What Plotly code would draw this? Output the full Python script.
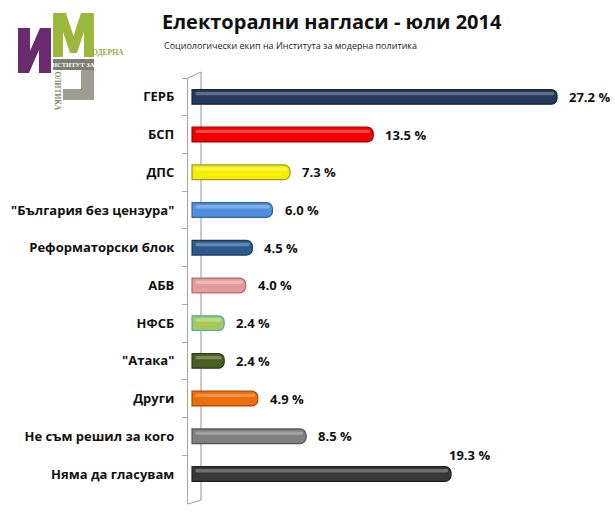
import plotly.graph_objects as go

# data
parties = ["ГЕРБ", "БСП", "ДПС", "\"България без цензура\"", "Реформаторски блок",
           "АБВ", "НФСБ", "\"Атака\"", "Други", "Не съм решил за кого", "Няма да гласувам"]
votes = [27.2, 13.5, 7.3, 6.0, 4.5, 4.0, 2.4, 2.4, 4.9, 8.5, 19.3]
bar_colors = ["#22395c", "#f20000", "#f4f000", "#4f8fdc", "#2d5a8e",
              "#e39c9c", "#a6c95a", "#4b5e22", "#ee6e0c", "#7f7f7f", "#383838"]
edge_colors = ["#142338", "#a00000", "#9a9a20", "#2f66a8", "#1a3a60",
               "#b06a6a", "#3bb0b8", "#2e3a12", "#a84a04", "#555555", "#1e1e1e"]

title = "Електорални нагласи - юли 2014"
subtitle = "Социологически екип на Института за модерна политика"

W, H = 615, 524
ML, MR, MT, MB = 188, 2, 78, 20
PW, PH = W - ML - MR, H - MT - MB
FONT = "Open Sans"


def px(x, y):
    # pixel position -> paper coordinates
    return (x - ML) / PW, (H - MB - y) / PH


def poly(points):
    s = ""
    for i, (x, y) in enumerate(points):
        X, Y = px(x, y)
        s += ("M" if i == 0 else "L") + f"{X:.4f},{Y:.4f} "
    return s + "Z"


def line(x0, y0, x1, y1, color="#a6a6a6"):
    X0, Y0 = px(x0, y0)
    X1, Y1 = px(x1, y1)
    return dict(type="line", xref="paper", yref="paper", x0=X0, y0=Y0, x1=X1, y1=Y1,
                line=dict(color=color, width=1.2), layer="below")


fig = go.Figure()
fig.add_bar(x=votes, y=parties, orientation="h", width=0.39,
            marker=dict(color=bar_colors, line=dict(color=edge_colors, width=1.2),
                        cornerradius=6),
            hoverinfo="x+y")
# light stripe to make the bars look like cylinders
fig.add_bar(x=[v - 0.45 for v in votes], base=0.25, y=parties, orientation="h",
            width=0.09, offset=-0.13,
            marker=dict(color="rgba(255,255,255,0.28)", line=dict(width=0), cornerradius=3),
            hoverinfo="skip")

annotations = []
for i, (p, v) in enumerate(zip(parties, votes)):
    last = i == len(parties) - 1
    annotations.append(dict(x=v, y=p, xref="x", yref="y", text=f"{v:.1f} %",
                            showarrow=False, xanchor="left",
                            xshift=-4 if last else 10, yshift=19 if last else 0,
                            font=dict(family=FONT, size=13, color="#111111", weight="bold")))

sx, sy = px(162, 45)
annotations.append(dict(x=sx, y=sy, xref="paper", yref="paper", text=subtitle,
                        showarrow=False, xanchor="left", yanchor="middle",
                        font=dict(family=FONT, size=9, color="#222222")))

# logo
LOGO_FONT = "Liberation Sans Narrow"
lx, ly = px(108, 52)
annotations.append(dict(x=lx, y=ly, xref="paper", yref="paper", text="ОДЕРНА",
                        showarrow=False, xanchor="center", yanchor="middle",
                        font=dict(family=LOGO_FONT, size=7.5, color="#8fae3a", weight="bold")))
lx, ly = px(73.5, 64.5)
annotations.append(dict(x=lx, y=ly, xref="paper", yref="paper", text="ИСТИТУТ ЗА",
                        showarrow=False, xanchor="center", yanchor="middle",
                        font=dict(family=LOGO_FONT, size=6.5, color="#ffffff", weight="bold")))
lx, ly = px(57.5, 91)
annotations.append(dict(x=lx, y=ly, xref="paper", yref="paper", text="ОЛИТИКА",
                        showarrow=False, textangle=90, xanchor="center", yanchor="middle",
                        font=dict(family=LOGO_FONT, size=7.5, color="#7f866a", weight="bold")))

shapes = [
    # frame of the 3D chart
    line(188, 78, 201, 72), line(201, 72, 201, 500),
    line(188, 504, 201, 500),
    # logo letters
    dict(type="path", xref="paper", yref="paper", layer="above", line=dict(width=0),
         fillcolor="#6a2a6e",
         path=poly([(18, 28), (30, 28), (30, 51), (40, 28), (51, 28), (51, 73),
                    (39, 73), (39, 50), (29, 73), (18, 73)])),
    dict(type="path", xref="paper", yref="paper", layer="above", line=dict(width=0),
         fillcolor="#9bb83c",
         path=poly([(53, 13), (66, 13), (73.5, 36), (81, 13), (94, 13), (94, 57),
                    (84, 57), (84, 32), (77, 53), (70, 53), (63, 32), (63, 57), (53, 57)])),
    dict(type="path", xref="paper", yref="paper", layer="below", line=dict(width=0),
         fillcolor="#7e7e72",
         path=poly([(53, 59), (94, 59), (94, 70), (53, 70)])),
    dict(type="path", xref="paper", yref="paper", layer="below", line=dict(width=0),
         fillcolor="#9e9e90",
         path=poly([(81, 70), (94, 70), (94, 100), (63, 100), (63, 89), (81, 89)])),
]

fig.update_layout(
    width=W, height=H,
    margin=dict(l=ML, r=MR, t=MT, b=MB, autoexpand=False),
    paper_bgcolor="white", plot_bgcolor="white",
    barmode="overlay", showlegend=False,
    title=dict(text=title, x=162 / W, xanchor="left", y=1 - 22 / H, yanchor="middle",
               font=dict(family=FONT, size=20, color="#111111", weight="bold")),
    annotations=annotations, shapes=shapes,
)
fig.update_xaxes(range=[-0.3, -0.3 + PW / 13.42], visible=False, fixedrange=True,
                 automargin=False)
fig.update_yaxes(autorange="reversed", showline=True, linecolor="#a6a6a6", linewidth=1.2,
                 ticks="outside", ticklen=5, tickcolor="#a6a6a6", tickson="boundaries",
                 ticklabelstandoff=10, showgrid=False, fixedrange=True, automargin=False,
                 tickfont=dict(family=FONT, size=13, color="#111111", weight="bold"))

# the page's default body margin would push the chart 8px off
fig.write_html("out.html", config={"displayModeBar": False},
               post_script="document.body.style.margin='0';")
